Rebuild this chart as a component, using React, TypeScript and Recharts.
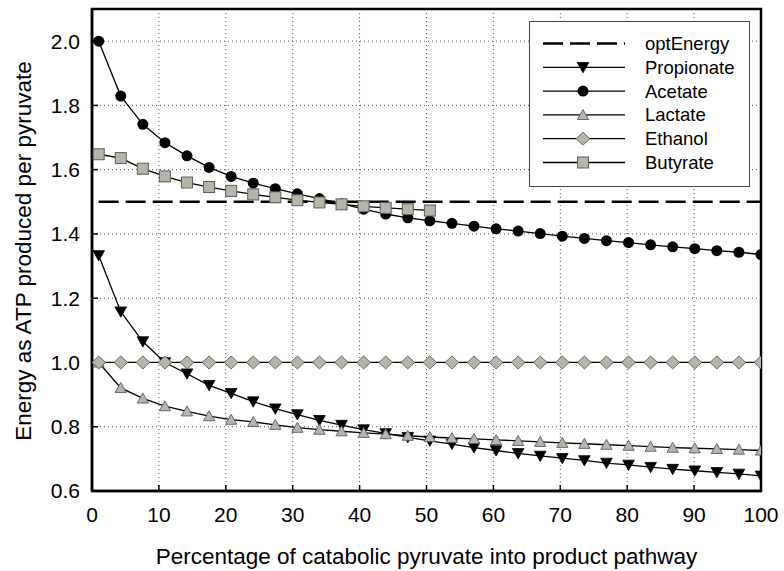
import React from 'react';
import { LineChart, Line, XAxis, YAxis, CartesianGrid, Legend, ReferenceArea } from 'recharts';

const xValues = [1, 4.3, 7.6, 10.9, 14.2, 17.5, 20.8, 24.1, 27.4, 30.7, 34, 37.3, 40.6, 43.9, 47.2, 50.5, 53.8, 57.1, 60.4, 63.7, 67, 70.3, 73.6, 76.9, 80.2, 83.5, 86.8, 90.1, 93.4, 96.7, 100];

const optEnergy = [1.5, 1.5, 1.5, 1.5, 1.5, 1.5, 1.5, 1.5, 1.5, 1.5, 1.5, 1.5, 1.5, 1.5, 1.5, 1.5, 1.5, 1.5, 1.5, 1.5, 1.5, 1.5, 1.5, 1.5, 1.5, 1.5, 1.5, 1.5, 1.5, 1.5, 1.5];

const propionate = [1.333, 1.158, 1.065, 1.0, 0.965, 0.929, 0.904, 0.878, 0.856, 0.838, 0.82, 0.805, 0.791, 0.779, 0.767, 0.756, 0.746, 0.735, 0.726, 0.717, 0.709, 0.702, 0.695, 0.687, 0.681, 0.674, 0.668, 0.663, 0.658, 0.653, 0.647];

const acetate = [2.0, 1.829, 1.741, 1.684, 1.643, 1.607, 1.579, 1.558, 1.541, 1.525, 1.51, 1.494, 1.477, 1.462, 1.45, 1.441, 1.433, 1.424, 1.416, 1.409, 1.401, 1.393, 1.386, 1.379, 1.373, 1.366, 1.36, 1.354, 1.348, 1.343, 1.336];

const lactate = [1.0, 0.921, 0.888, 0.864, 0.848, 0.833, 0.822, 0.815, 0.806, 0.797, 0.791, 0.786, 0.781, 0.777, 0.772, 0.768, 0.765, 0.762, 0.759, 0.756, 0.753, 0.75, 0.747, 0.744, 0.741, 0.738, 0.735, 0.733, 0.731, 0.729, 0.726];

const ethanol = [1.0, 1.0, 1.0, 1.0, 1.0, 1.0, 1.0, 1.0, 1.0, 1.0, 1.0, 1.0, 1.0, 1.0, 1.0, 1.0, 1.0, 1.0, 1.0, 1.0, 1.0, 1.0, 1.0, 1.0, 1.0, 1.0, 1.0, 1.0, 1.0, 1.0, 1.0];

const butyrate = [1.648, 1.636, 1.603, 1.579, 1.56, 1.546, 1.534, 1.523, 1.514, 1.505, 1.498, 1.492, 1.486, 1.481, 1.477, 1.473];

const xTicks = [0, 10, 20, 30, 40, 50, 60, 70, 80, 90, 100];
const yTicks = [0.6, 0.8, 1.0, 1.2, 1.4, 1.6, 1.8, 2.0];

const seriesNames = ['optEnergy', 'Propionate', 'Acetate', 'Lactate', 'Ethanol', 'Butyrate'];

const data = xValues.map((x, i) => ({
  x,
  optEnergy: optEnergy[i],
  Propionate: propionate[i],
  Acetate: acetate[i],
  Lactate: lactate[i],
  Ethanol: ethanol[i],
  Butyrate: i < butyrate.length ? butyrate[i] : null,
}));

const FONT = '"Liberation Sans", Arial, sans-serif';
const GRAY = '#b6b6a8';
const GRAY_STROKE = '#5c5c5c';

type Kind = 'circle' | 'tdown' | 'tup' | 'diamond' | 'square';

function drawMarker(kind: Kind, cx: number, cy: number, key?: any) {
  switch (kind) {
    case 'circle':
      return <circle key={key} cx={cx} cy={cy} r={5.5} fill="#000" />;
    case 'tdown':
      return <polygon key={key} points={`${cx - 5.8},${cy - 4.8} ${cx + 5.8},${cy - 4.8} ${cx},${cy + 5.5}`} fill="#000" stroke="#000" strokeWidth={0.8} />;
    case 'tup':
      return <polygon key={key} points={`${cx - 5.6},${cy + 4.6} ${cx + 5.6},${cy + 4.6} ${cx},${cy - 5.4}`} fill={GRAY} stroke={GRAY_STROKE} strokeWidth={0.9} />;
    case 'diamond':
      return <polygon key={key} points={`${cx - 6.8},${cy} ${cx},${cy - 6.5} ${cx + 6.8},${cy} ${cx},${cy + 6.5}`} fill={GRAY} stroke={GRAY_STROKE} strokeWidth={0.9} />;
    case 'square':
      return <rect key={key} x={cx - 5.5} y={cy - 5.5} width={11} height={11} fill={GRAY} stroke={GRAY_STROKE} strokeWidth={1} />;
  }
  return null;
}

const makeDot = (kind: Kind) => (props: any) => {
  const { cx, cy, index, value } = props;
  if (cx == null || cy == null || value == null || isNaN(cy)) return <g key={`e-${index}`} />;
  return drawMarker(kind, cx, cy, `d-${kind}-${index}`);
};

const legendKinds: (Kind | null)[] = [null, 'tdown', 'circle', 'tup', 'diamond', 'square'];

const LegendBox = () => (
  <svg width={221} height={166} style={{ display: 'block' }}>
    <rect x={0.5} y={0.5} width={220} height={165} fill="#fff" stroke="#444" strokeWidth={1} />
    {seriesNames.map((name, i) => {
      const y = 22.5 + i * 23.8;
      const kind = legendKinds[i];
      return (
        <g key={name}>
          {kind === null ? (
            <line x1={14} x2={96} y1={y} y2={y} stroke="#000" strokeWidth={2.6} strokeDasharray="20 7" />
          ) : (
            <line x1={14} x2={96} y1={y} y2={y} stroke="#000" strokeWidth={1.3} />
          )}
          {kind && drawMarker(kind, 54, y)}
          <text x={116} y={y} dominantBaseline="central" fontFamily={FONT} fontSize={18.5} fill="#000">{name}</text>
        </g>
      );
    })}
  </svg>
);

export default function App() {
  return (
    <div style={{ position: 'absolute', left: 0, top: 0, width: 784, height: 571, background: '#fff' }}>
      <LineChart width={784} height={571} data={data} margin={{ top: 9, right: 23, bottom: 0, left: 0 }}>
        <CartesianGrid stroke="#555" strokeDasharray="1 3" strokeWidth={1} verticalValues={xTicks} horizontalValues={yTicks} />
        <XAxis
          type="number"
          dataKey="x"
          domain={[0, 100]}
          ticks={xTicks}
          allowDataOverflow
          height={80}
          tickSize={-6}
          tickMargin={22.5}
          axisLine={{ stroke: '#000', strokeWidth: 2.5 }}
          tickLine={{ stroke: '#000', strokeWidth: 1.5 }}
          tick={{ fontFamily: FONT, fontSize: 21, fill: '#000' }}
          label={{
            content: () => (
              <text x={426.5} y={556} textAnchor="middle" dominantBaseline="central" fontFamily={FONT} fontSize={22.5} fill="#000">
                Percentage of catabolic pyruvate into product pathway
              </text>
            ),
          }}
        />
        <YAxis
          type="number"
          domain={[0.6, 2.1]}
          ticks={yTicks}
          allowDataOverflow
          width={92}
          tickSize={-6}
          tickMargin={18}
          tickFormatter={(v: number) => v.toFixed(1)}
          axisLine={{ stroke: '#000', strokeWidth: 2.5 }}
          tickLine={{ stroke: '#000', strokeWidth: 1.5 }}
          tick={{ fontFamily: FONT, fontSize: 21, fill: '#000' }}
          label={{
            content: () => (
              <text x={23} y={251} transform="rotate(-90 23 251)" textAnchor="middle" dominantBaseline="central" fontFamily={FONT} fontSize={22.5} fill="#000">
                Energy as ATP produced per pyruvate
              </text>
            ),
          }}
        />
        <ReferenceArea x1={0} x2={100} y1={0.6} y2={2.1} fill="none" stroke="#000" strokeWidth={2.5} ifOverflow="visible" />
        <Line dataKey="optEnergy" stroke="#000" strokeWidth={2.6} strokeDasharray="20 7" dot={false} activeDot={false} isAnimationActive={false} />
        <Line dataKey="Propionate" stroke="#000" strokeWidth={1.3} dot={makeDot('tdown')} activeDot={false} isAnimationActive={false} />
        <Line dataKey="Acetate" stroke="#000" strokeWidth={1.3} dot={makeDot('circle')} activeDot={false} isAnimationActive={false} />
        <Line dataKey="Lactate" stroke="#000" strokeWidth={1.3} dot={makeDot('tup')} activeDot={false} isAnimationActive={false} />
        <Line dataKey="Ethanol" stroke="#000" strokeWidth={1.3} dot={makeDot('diamond')} activeDot={false} isAnimationActive={false} />
        <Line dataKey="Butyrate" stroke="#000" strokeWidth={1.3} dot={makeDot('square')} activeDot={false} isAnimationActive={false} />
        <Legend
          layout="horizontal"
          align="center"
          verticalAlign="middle"
          content={() => <LegendBox />}
          wrapperStyle={{ position: 'absolute', left: 529, top: 21, width: 221, height: 166 }}
        />
      </LineChart>
    </div>
  );
}
